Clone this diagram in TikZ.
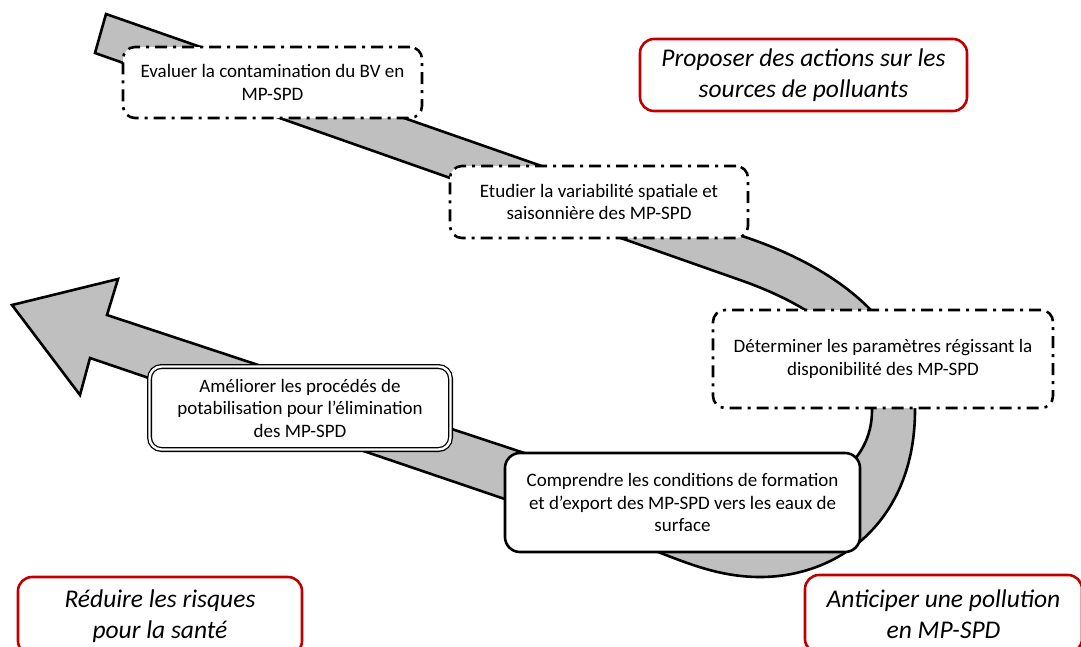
\documentclass[tikz,border=0pt]{standalone}
\usepackage{fontspec}
\setmainfont{Carlito}
\definecolor{bandgray}{RGB}{191,191,191}
\definecolor{darkred}{RGB}{192,0,0}
\begin{document}
\begin{tikzpicture}[x=1pt,y=-1pt,
  band/.style={fill=bandgray, draw=black, line width=2.6pt, line join=miter},
  txt/.style={align=center, inner sep=0pt, fill=white, font=\fontsize{19}{22.5}\selectfont},
  dashbox/.style={txt, draw, rounded corners=12pt, line width=2.6pt, dash pattern=on 12pt off 6pt on 3pt off 6pt},
  solidbox/.style={txt, draw, rounded corners=15pt, line width=2.6pt},
  dblbox/.style={txt, draw, rounded corners=12pt, double, double distance=2.4pt, line width=1.3pt},
  redbox/.style={align=center, inner sep=0pt, fill=white, draw=darkred, rounded corners=14pt, line width=2.6pt, font=\fontsize{25.5}{31}\selectfont\itshape}
]
\useasboundingbox (0,0) rectangle (1081,646);
\clip (0,0) rectangle (1081,646);
% big grey S-shaped arrow
\path[band] (106,14) -- (745,237)
  .. controls (850,272) and (915,335) .. (915,410)
  .. controls (915,520) and (840,577) .. (760,577)
  .. controls (715,577) and (680,560) .. (640,545)
  -- (90,358) -- (80,395) -- (12,305) -- (118,279) -- (107,315)
  -- (600,478)
  .. controls (740,525) and (872,500) .. (872,410)
  .. controls (872,350) and (820,308) .. (740,280)
  -- (95,53) -- cycle;
% step boxes
\node[dashbox, minimum width=299pt, minimum height=71pt] (eval) at (272.5,82.5) {Evaluer la contamination du BV en\\MP-SPD};
\node[dashbox, minimum width=298pt, minimum height=72pt] (etud) at (599,202) {Etudier la variabilit\'e spatiale et\\saisonni\`ere des MP-SPD};
\node[dashbox, minimum width=340pt, minimum height=98pt] (det) at (883,359) {D\'eterminer les param\`etres r\'egissant la\\disponibilit\'e des MP-SPD};
\node[solidbox, minimum width=355pt, minimum height=99pt] (comp) at (682.5,502.5) {Comprendre les conditions de formation\\et d’export des MP-SPD vers les eaux de\\surface};
\node[dblbox, minimum width=301pt, minimum height=83pt] (amel) at (300,408) {Am\'eliorer les proc\'ed\'es de\\potabilisation pour l’\'elimination\\des MP-SPD};
% goals
\node[redbox, minimum width=327pt, minimum height=72pt] (prop) at (803.5,75) {Proposer des actions sur les\\sources de polluants};
\node[redbox, minimum width=284pt, minimum height=78pt] (red) at (160,616) {R\'eduire les risques\\pour la sant\'e};
\node[redbox, minimum width=277pt, minimum height=78pt] (anti) at (943.5,614) {Anticiper une pollution\\en MP-SPD};
\end{tikzpicture}
\end{document}
